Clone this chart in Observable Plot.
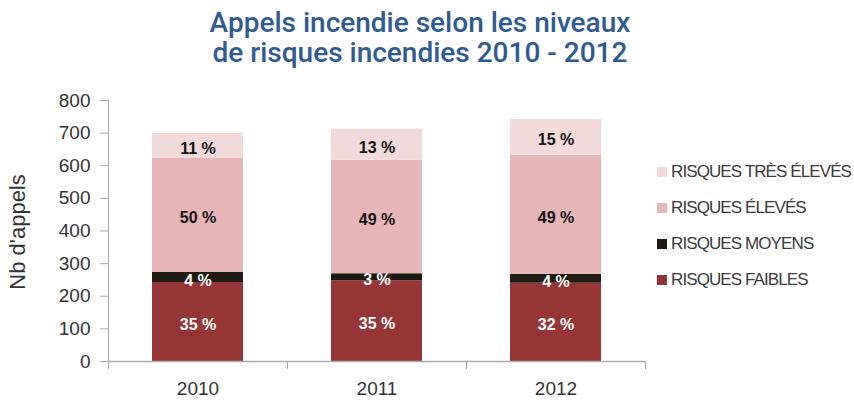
<!DOCTYPE html>
<html>
<head>
<meta charset="utf-8">
<script src="https://cdn.jsdelivr.net/npm/d3@7"></script>
<script src="https://cdn.jsdelivr.net/npm/@observablehq/plot@0.6"></script>
<style>
  body { margin: 0; background: #fff; }
  #wrap { position: relative; width: 854px; height: 400px; font-family: "Liberation Sans", Arial, sans-serif; overflow: hidden; }
  #title { position: absolute; left: 0; top: 8px; width: 840px; text-align: center; color: #2f5b93; font-family: Roboto, "Liberation Sans", Arial, sans-serif; font-weight: 500; font-size: 28px; line-height: 30px; }
  #chart { position: absolute; left: 0; top: 80px; }
  #ylabel { position: absolute; left: 18px; top: 232px; transform: translate(-50%, -50%) rotate(-90deg); font-size: 22px; color: #333; white-space: nowrap; }
  #legend { position: absolute; left: 657px; top: 154px; }
  .row { height: 36px; line-height: 36px; font-size: 17px; letter-spacing: -0.9px; color: #3a3a3a; white-space: nowrap; }
  .sw { display: inline-block; width: 10px; height: 10px; margin-right: 4px; vertical-align: 0px; }
</style>
</head>
<body>
<div id="wrap">
  <div id="title">Appels incendie selon les niveaux<br>de risques incendies 2010 - 2012</div>
  <div id="chart"></div>
  <div id="ylabel">Nb d'appels</div>
  <div id="legend"></div>
</div>
<script>
const years = ["2010", "2011", "2012"];
const risks = ["RISQUES FAIBLES", "RISQUES MOYENS", "RISQUES ÉLEVÉS", "RISQUES TRÈS ÉLEVÉS"];
const faibles = [242, 247, 240];
const moyens = [31, 22, 27];
const eleves = [350, 348, 365];
const tresEleves = [76, 95, 110];
const pctFaibles = [35, 35, 32];
const pctMoyens = [4, 3, 4];
const pctEleves = [50, 49, 49];
const pctTresEleves = [11, 13, 15];
const yTicks = [0, 100, 200, 300, 400, 500, 600, 700, 800];
const colors = ["#963535", "#1f1b12", "#e6b5b7", "#f2d9da"];

const series = [faibles, moyens, eleves, tresEleves];
const pcts = [pctFaibles, pctMoyens, pctEleves, pctTresEleves];
const data = risks.flatMap((r, i) => years.map((y, j) => ({year: y, risk: r, value: series[i][j], pct: pcts[i][j], ri: i})));

const step = (854 - 108 - 209) / years.length;

const chart = Plot.plot({
  width: 854,
  height: 320,
  marginTop: 20,
  marginBottom: 39,
  marginLeft: 108,
  marginRight: 209,
  style: {fontFamily: "'Liberation Sans', Arial, sans-serif", fontSize: "19px", color: "#333", background: "transparent", overflow: "visible"},
  x: {domain: years, paddingInner: 0.49, paddingOuter: 0.245, label: null},
  y: {domain: [0, 800], label: null},
  color: {domain: risks, range: colors},
  marks: [
    Plot.barY(data, {x: "year", y: "value", fill: "risk"}),
    Plot.text(data, Plot.stackY({x: "year", y: "value", z: "risk", text: d => d.ri < 2 ? d.pct + " %" : null, fill: "white", fontWeight: "bold", fontSize: 16, dy: 3})),
    Plot.text(data, Plot.stackY({x: "year", y: "value", z: "risk", text: d => d.ri >= 2 ? d.pct + " %" : null, fill: "#111", fontWeight: "bold", fontSize: 16, dy: 3})),
    Plot.frame({anchor: "left", stroke: "#aaa"}),
    Plot.ruleY([0], {stroke: "#aaa", strokeWidth: 1.5}),
    Plot.axisY({ticks: yTicks, tickSize: 8, tickPadding: 10, stroke: "#aaa", fill: "#333", fontSize: 19, label: null}),
    Plot.axisX({tickSize: 0, tickPadding: 20, fill: "#333", fontSize: 19, label: null}),
    Plot.axisX({tickSize: 8, dx: -step / 2, tickFormat: () => "", stroke: "#aaa", label: null}),
    Plot.axisX({ticks: [years[years.length - 1]], tickSize: 8, dx: step / 2, tickFormat: () => "", stroke: "#aaa", label: null})
  ]
});
document.getElementById("chart").appendChild(chart);

const legend = document.getElementById("legend");
risks.slice().reverse().forEach(r => {
  const row = document.createElement("div");
  row.className = "row";
  const sw = document.createElement("span");
  sw.className = "sw";
  sw.style.background = colors[risks.indexOf(r)];
  row.appendChild(sw);
  row.appendChild(document.createTextNode(r));
  legend.appendChild(row);
});
</script>
</body>
</html>
